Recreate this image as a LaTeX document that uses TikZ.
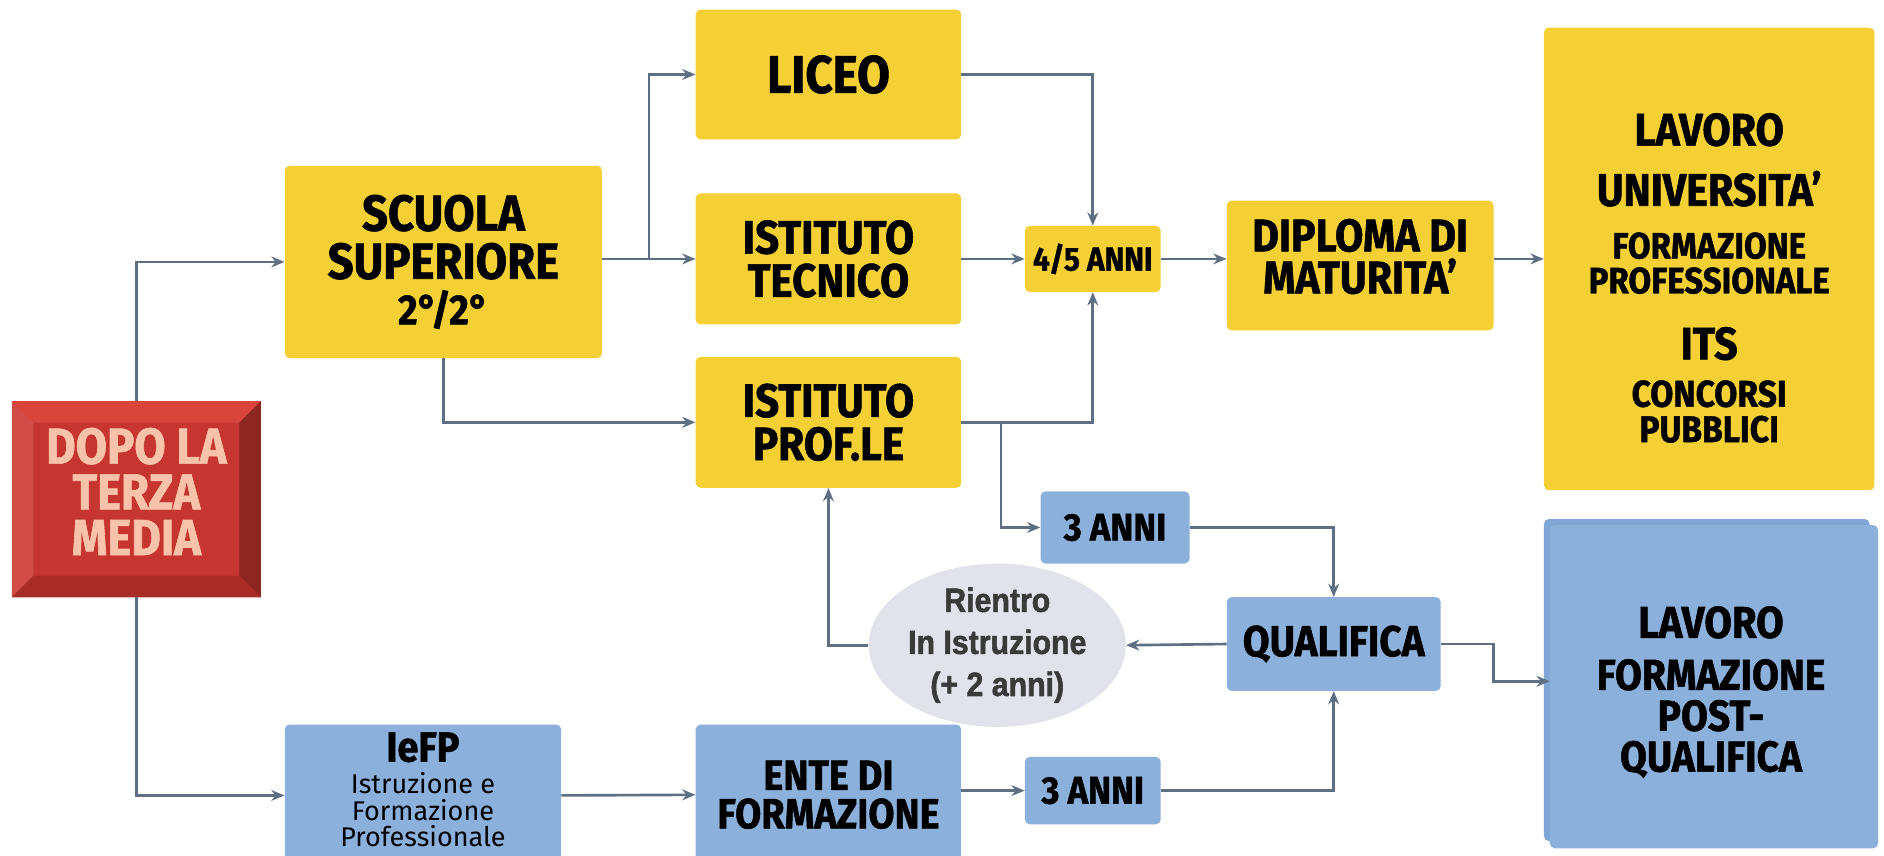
\documentclass[tikz,border=0pt]{standalone}
\usepackage{fontspec}
\setmainfont{Fira Sans}[FakeStretch=0.9, BoldFeatures={FakeBold=1.2}]
\newfontfamily\arialb{Liberation Sans}[FakeStretch=0.9, FakeBold=1.6]
\newfontfamily\subfont{Fira Sans}
\usetikzlibrary{arrows.meta,shapes.geometric,calc}
\definecolor{yel}{HTML}{F4D035}
\definecolor{blu}{HTML}{8CB0DC}
\definecolor{blub}{HTML}{7FA5D4}
\definecolor{arrc}{HTML}{5E6F84}
\definecolor{redface}{HTML}{C6352F}
\definecolor{redtop}{HTML}{D9443B}
\definecolor{redleft}{HTML}{D24B45}
\definecolor{redright}{HTML}{8E2520}
\definecolor{redbot}{HTML}{A82B26}
\definecolor{redtxt}{HTML}{F9C3AA}
\definecolor{ellfill}{HTML}{E2E2EA}
\definecolor{elltxt}{HTML}{3A3A3A}
\tikzset{
  ybox/.style={fill=yel, rounded corners=4pt, inner sep=0pt, align=center, font=\bfseries\fontsize{40}{37}\selectfont},
  bbox/.style={fill=blu, rounded corners=4pt, inner sep=0pt, align=center, font=\bfseries\fontsize{36}{32}\selectfont},
  txt/.style={inner sep=0pt, align=center, font=\bfseries\fontsize{37}{34}\selectfont},
  arr/.style={draw=arrc, line width=2.2pt, -{Stealth[length=11pt,width=9pt]}},
}
\begin{document}
\begin{tikzpicture}[x=1pt,y=-1pt]
\clip (0,0) rectangle (1568,712);
\fill[white] (0,0) rectangle (1568,712);

% red beveled start box
\node[fill=redface, minimum width=207pt, minimum height=163pt, inner sep=0pt] (red) at (113.5,415.5) {};
\fill[redtop] (red.north west) -- (red.north east) -- ($(red.north east)+(-18,18)$) -- ($(red.north west)+(18,18)$) -- cycle;
\fill[redleft] (red.north west) -- ($(red.north west)+(18,18)$) -- ($(red.south west)+(18,-18)$) -- (red.south west) -- cycle;
\fill[redright] (red.north east) -- (red.south east) -- ($(red.south east)+(-18,-18)$) -- ($(red.north east)+(-18,18)$) -- cycle;
\fill[redbot] (red.south west) -- (red.south east) -- ($(red.south east)+(-18,-18)$) -- ($(red.south west)+(18,-18)$) -- cycle;
\node[inner sep=0pt, align=center, text=redtxt, font=\bfseries\fontsize{42}{38}\selectfont] (redt) at (113.5,409) {DOPO LA\\TERZA\\MEDIA};

% yellow path
\node[ybox, minimum width=264pt, minimum height=160pt, font=\bfseries\fontsize{42}{40}\selectfont] (scuola) at (369,218) {SCUOLA\\SUPERIORE\\[-2pt]{\fontsize{35}{35}\selectfont 2°/2°}};
\node[ybox, minimum width=221pt, minimum height=108pt, font=\bfseries\fontsize{44}{40}\selectfont] (liceo) at (689.5,62) {LICEO};
\node[ybox, minimum width=221pt, minimum height=109pt, font=\bfseries\fontsize{39}{36}\selectfont] (tecnico) at (689.5,215.5) {ISTITUTO\\TECNICO};
\node[ybox, minimum width=221pt, minimum height=109pt, font=\bfseries\fontsize{39}{36}\selectfont] (prof) at (689.5,351.5) {ISTITUTO\\PROF.LE};
\node[ybox, minimum width=113pt, minimum height=55pt, font=\bfseries\fontsize{27.5}{27}\selectfont] (anni45) at (909.5,215.5) {4/5 ANNI};
\node[ybox, minimum width=222pt, minimum height=108pt] (diploma) at (1132,221) {};
\node[txt, font=\bfseries\fontsize{38}{35}\selectfont] (diplomat) at (1132,213.5) {DIPLOMA DI\\MATURITA'};
\node[ybox, minimum width=275pt, minimum height=385pt] (uscita) at (1422.5,215.5) {};
\node[txt, font=\bfseries\fontsize{38}{36}\selectfont] (u1) at (1422.5,108) {LAVORO};
\node[txt, font=\bfseries\fontsize{38}{36}\selectfont] (u2) at (1422.5,157) {UNIVERSITA'};
\node[txt, font=\bfseries\fontsize{30.5}{29}\selectfont] (u3) at (1422.5,219) {FORMAZIONE\\PROFESSIONALE};
\node[txt, font=\bfseries\fontsize{38}{36}\selectfont] (u4) at (1422.5,286) {ITS};
\node[txt, font=\bfseries\fontsize{31}{29.5}\selectfont] (u5) at (1422.5,342.5) {CONCORSI\\PUBBLICI};

% blue path
\node[bbox, minimum width=124pt, minimum height=60pt, font=\bfseries\fontsize{32}{30}\selectfont] (anni3a) at (928,439) {3 ANNI};
\node[ellipse, fill=ellfill, minimum width=214pt, minimum height=100pt, inner sep=0pt, align=center,
  text=elltxt, font=\arialb\bfseries\fontsize{28}{35}\selectfont] (rientro) at (830,537) {Rientro\\In Istruzione\\(+ 2 anni)};
\node[bbox, minimum width=178pt, minimum height=78pt] (qualifica) at (1110,536) {QUALIFICA};
\fill[blub, rounded corners=4pt] (1285,432) rectangle (1556,700);
\node[bbox, minimum width=273pt, minimum height=269pt] (post) at (1426.5,571.5) {};
\node[txt] (p1) at (1424,518) {LAVORO};
\node[txt, font=\bfseries\fontsize{36}{34}\selectfont] (p2) at (1424,598) {FORMAZIONE\\POST-\\QUALIFICA};
\node[bbox, minimum width=230pt, minimum height=118pt] (iefp) at (352,662) {};
\node[inner sep=0pt, font=\bfseries\fontsize{35}{30}\selectfont] (iefpt) at (352,622) {IeFP};
\node[inner sep=0pt, align=center, font=\subfont\fontsize{22.5}{22}\selectfont, anchor=north] (iefps) at (352,643) {Istruzione e\\Formazione\\Professionale};
\node[bbox, minimum width=221pt, minimum height=117pt, font=\bfseries\fontsize{35}{32}\selectfont] (ente) at (689.5,661.5) {ENTE DI\\FORMAZIONE};
\node[bbox, minimum width=113pt, minimum height=56pt, font=\bfseries\fontsize{32}{30}\selectfont] (anni3b) at (909.5,658) {3 ANNI};

% connectors
\coordinate (b1) at (540,215.5);
\coordinate (b2) at (833,351.5);
\coordinate (b3) at (1243,567);
\draw[arr] (red.north) |- (scuola.west);
\draw[arr] (red.south) |- (iefp.west);
\draw[arr] (scuola.east |- tecnico.west) -- (tecnico.west);
\draw[arr] (b1) |- (liceo.west);
\draw[arr] (scuola.south) |- (prof.west);
\draw[arr] (liceo.east) -| (anni45.north);
\draw[arr] (tecnico.east) -- (anni45.west);
\draw[arr] (prof.east) -| (anni45.south);
\draw[arr] (b2) |- (anni3a.west);
\draw[arr] (anni45.east) -- (diploma.west |- anni45.east);
\draw[arr] (diploma.east |- anni45.east) -- (uscita.west |- anni45.east);
\draw[arr] (anni3a.east) -| (qualifica.north);
\draw[arr] (qualifica.west) -- (rientro.east);
\draw[arr] (rientro.west) -| (prof.south);
\draw[arr] (qualifica.east) -| (b3) -- (post.west |- b3);
\draw[arr] (iefp.east) -- (ente.west);
\draw[arr] (ente.east |- anni3b.west) -- (anni3b.west);
\draw[arr] (anni3b.east) -| (qualifica.south);
\end{tikzpicture}
\end{document}
